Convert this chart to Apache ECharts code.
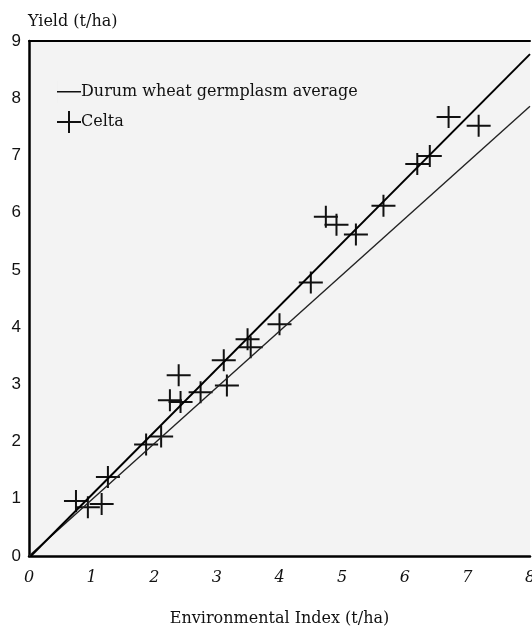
<!DOCTYPE html>
<html>
<head>
<meta charset="utf-8">
<script src="https://cdn.jsdelivr.net/npm/echarts@6/dist/echarts.min.js"></script>
<style>html,body{margin:0;padding:0;background:#fff;}#c{width:532px;height:629px;}</style>
</head>
<body>
<div id="c"></div>
<script>
// Celta yields vs environmental index (t/ha)
const celtaX = [0.75, 0.94, 1.16, 1.26, 1.87, 2.11, 2.25, 2.42, 2.39, 2.74, 3.16, 3.11, 3.49, 3.54, 4.00, 4.50, 4.74, 4.91, 5.22, 5.66, 6.20, 6.40, 6.70, 7.18];
const celtaY = [0.96, 0.85, 0.91, 1.38, 1.95, 2.09, 2.72, 2.69, 3.16, 2.86, 2.98, 3.42, 3.79, 3.65, 4.05, 4.78, 5.93, 5.79, 5.62, 6.12, 6.85, 6.99, 7.67, 7.52];
// line endpoints [x, y]
const avgLineX = [0, 8];
const avgLineY = [0, 7.86];
const celtaLineX = [0.03, 8];
const celtaLineY = [0, 8.77];
const xTickLabels = ['0', '1', '2', '3', '4', '5', '6', '7', '8'];
const yTickLabels = ['0', '1', '2', '3', '4', '5', '6', '7', '8', '9'];

const zip = (a, b) => a.map((v, i) => [v, b[i]]);
const crossPath = 'path://M0,10 H24 V12 H0 Z M11,0 H13 V22 H11 Z';
const linePath = 'path://M0,10 H24 V11.6 H0 Z M0,0 H0.01 V22 H0 Z';
const serif = '"DejaVu Serif", serif';

const chart = echarts.init(document.getElementById('c'));
chart.setOption({
  animation: false,
  backgroundColor: '#ffffff',
  grid: { left: 29, right: 2, top: 41, bottom: 73, outerBoundsMode: 'none', containLabel: false,
    show: true, borderWidth: 0, backgroundColor: '#f3f3f3' },
  legend: {
    orient: 'vertical', left: 52, top: 76, itemGap: 8, itemWidth: 24, itemHeight: 22,
    textStyle: { fontFamily: serif, fontSize: 16, color: '#111', padding: [0, 0, 0, -5] },
    data: [
      { name: 'Durum wheat germplasm average', icon: linePath, itemStyle: { color: '#111' } },
      { name: 'Celta', icon: crossPath, itemStyle: { color: '#111' } }
    ]
  },
  xAxis: [{
    type: 'value', min: 0, max: 8, interval: 1, offset: 4,
    name: 'Environmental Index (t/ha)', nameLocation: 'middle', nameGap: 51,
    nameTextStyle: { fontFamily: serif, fontSize: 16, color: '#111' },
    axisLine: { show: true, lineStyle: { color: '#000', width: 2.5 } },
    axisTick: { show: false }, splitLine: { show: false },
    axisLabel: { margin: 10, fontFamily: serif, fontStyle: 'italic', fontSize: 16, color: '#111',
      formatter: v => xTickLabels[Math.round(v)] }
  }, {
    type: 'value', min: 0, max: 8, position: 'top',
    axisLine: { show: true, lineStyle: { color: '#000', width: 2 } },
    axisTick: { show: false }, axisLabel: { show: false }, splitLine: { show: false }
  }],
  yAxis: {
    type: 'value', min: 0, max: 9, interval: 1,
    name: 'Yield (t/ha)', nameLocation: 'end', nameGap: 11,
    nameTextStyle: { fontFamily: serif, fontSize: 16, color: '#111', align: 'left', padding: [0, 0, 0, -1] },
    axisLine: { show: true, lineStyle: { color: '#000', width: 2.5 } },
    axisTick: { show: false }, splitLine: { show: false },
    axisLabel: { margin: 8, fontFamily: '"Liberation Sans", Arial, sans-serif', fontSize: 17, color: '#111',
      formatter: v => yTickLabels[Math.round(v)] }
  },
  series: [
    { name: 'Durum wheat germplasm average', type: 'line', data: zip(avgLineX, avgLineY),
      symbol: 'none', lineStyle: { color: '#222', width: 1.4 }, itemStyle: { color: '#222' } },
    { name: 'Celta line', type: 'line', data: zip(celtaLineX, celtaLineY),
      symbol: 'none', lineStyle: { color: '#000', width: 2 }, itemStyle: { color: '#000' } },
    { name: 'Celta', type: 'scatter', data: zip(celtaX, celtaY),
      symbol: crossPath, symbolSize: [24, 22], symbolKeepAspect: false,
      itemStyle: { color: '#111', opacity: 1 } }
  ]
});
</script>
</body>
</html>
